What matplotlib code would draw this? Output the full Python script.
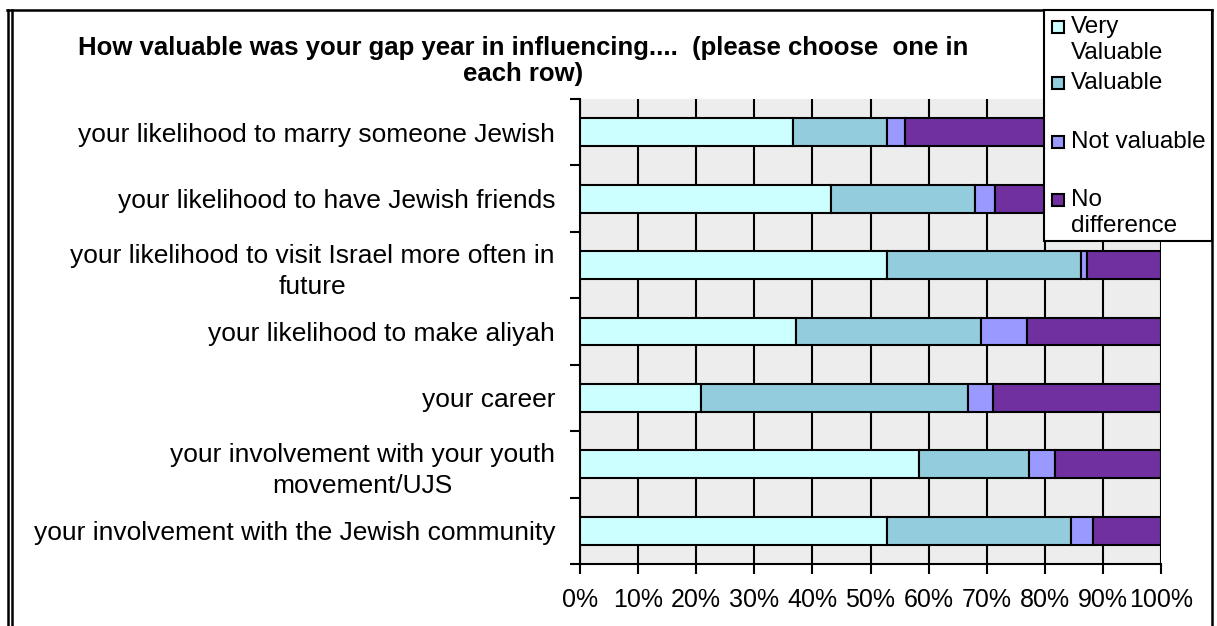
import numpy as np
import matplotlib.pyplot as plt
from matplotlib.lines import Line2D
from matplotlib.patches import Rectangle
from matplotlib.ticker import PercentFormatter

plt.rcParams['font.family'] = ['Liberation Sans', 'DejaVu Sans']

# survey answers, share of respondents per row
categories = ['your likelihood to marry someone Jewish',
              'your likelihood to have Jewish friends',
              'your likelihood to visit Israel more often in\nfuture',
              'your likelihood to make aliyah',
              'your career',
              'your involvement with your youth\nmovement/UJS',
              'your involvement with the Jewish community']
very_valuable = [36.6, 43.2, 52.9, 37.1, 20.9, 58.4, 52.9]
valuable = [16.2, 24.8, 33.3, 31.9, 45.8, 18.9, 31.6]
not_valuable = [3.2, 3.5, 1.0, 7.9, 4.4, 4.5, 3.8]
no_difference = [44.0, 28.5, 12.8, 23.1, 28.9, 18.2, 11.7]

series_labels = ['Very\nValuable', 'Valuable', 'Not valuable', 'No\ndifference']
colors = ['#CCFFFF', '#93CCDD', '#9999FF', '#7030A0']

title = ('How valuable was your gap year in influencing....  (please choose  one in\n'
         'each row)')

W, H = 1217, 626


def fx(px):
    return px / W


def fy(py):
    return 1 - py / H


fig = plt.figure(figsize=(W / 100, H / 100), dpi=100)
ax = fig.add_axes([fx(580), fy(564), fx(1161) - fx(580), fy(99) - fy(564)])

series = [very_valuable, valuable, not_valuable, no_difference]
y = np.arange(len(categories))
left = np.zeros(len(categories))
for vals, col in zip(series, colors):
    vals = np.array(vals) / 100
    ax.barh(y, vals, left=left, height=0.42, color=col,
            edgecolor='black', linewidth=1.5, zorder=3)
    left += vals

ax.set_xlim(0, 1)
ax.set_ylim(len(categories) - 0.5, -0.5)
ax.set_facecolor('#EDEDED')

ax.set_xticks(np.linspace(0, 1, 11))
ax.xaxis.set_major_formatter(PercentFormatter(1.0, decimals=0))
ax.xaxis.grid(True, color='black', linewidth=1.5)
ax.set_axisbelow(True)

# ticks on the row boundaries, labels on the row centres
ax.set_yticks(np.arange(len(categories) + 1) - 0.5)
ax.set_yticklabels([])
ax.set_yticks(y, minor=True)
ax.set_yticklabels(categories, minor=True, fontsize=19,
                   multialignment='center', linespacing=1.4)
ax.tick_params(axis='y', which='minor', length=0, pad=18)
ax.tick_params(axis='y', which='major', length=7, width=1.5)
ax.tick_params(axis='x', length=7, width=1.5, labelsize=18, pad=10)
# two-line labels sit a little high, like the single-line ones
for lab in ax.yaxis.get_minorticklabels():
    if '\n' in lab.get_text():
        lab.set_verticalalignment('center_baseline')

for s in ['top', 'right']:
    ax.spines[s].set_visible(False)
for s in ['left', 'bottom']:
    ax.spines[s].set_linewidth(1.5)

fig.text(fx(523), fy(61), title, ha='center', va='center',
         fontsize=18.5, fontweight='bold', multialignment='center', linespacing=1.15)

# legend box in the top right corner
fig.patches.append(Rectangle((fx(1044), fy(241)), fx(1212) - fx(1044), fy(10) - fy(241),
                             transform=fig.transFigure, facecolor='white',
                             edgecolor='black', linewidth=1.5, zorder=5))
entry_y = [27, 83, 142, 200]
for lab, col, ey in zip(series_labels, colors, entry_y):
    fig.patches.append(Rectangle((fx(1052), fy(ey + 6)), fx(12), 12 / H,
                                 transform=fig.transFigure, facecolor=col,
                                 edgecolor='black', linewidth=1.5, zorder=6))
    for j, line in enumerate(lab.split('\n')):
        fig.text(fx(1071), fy(ey + 26 * j), line, ha='left', va='center',
                 fontsize=17.5, zorder=7)

# outer frame: double rule on the left, single on top and right
frame = [([fx(8), fx(8)], [fy(10), 0]),
         ([fx(12), fx(12)], [fy(10), 0]),
         ([fx(7), fx(1212)], [fy(10), fy(10)]),
         ([fx(1211.5), fx(1211.5)], [fy(10), 0])]
for xs, ys in frame:
    fig.add_artist(Line2D(xs, ys, color='black', linewidth=1.8, transform=fig.transFigure))

fig.savefig('out.png', dpi=100, facecolor='white')
